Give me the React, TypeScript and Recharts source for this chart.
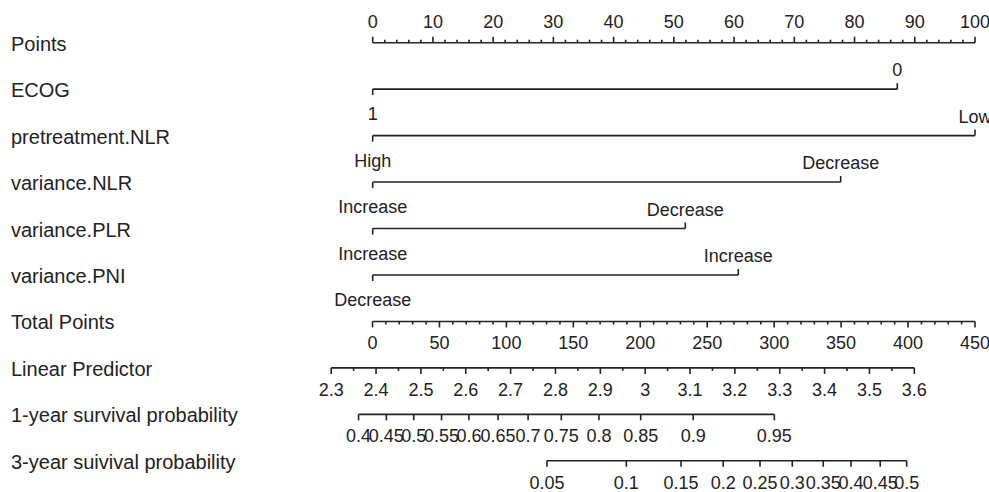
import { ScatterChart, Scatter, XAxis, YAxis } from 'recharts'

const W = 989
const H = 492
const FONT = '"Liberation Sans", Arial, sans-serif'
const INK = '#222'

const ROWS = [
  'Points',
  'ECOG',
  'pretreatment.NLR',
  'variance.NLR',
  'variance.PLR',
  'variance.PNI',
  'Total Points',
  'Linear Predictor',
  '1-year survival probability',
  '3-year suivival probability',
]

// axis tick labels
const POINT_TICKS = [0, 10, 20, 30, 40, 50, 60, 70, 80, 90, 100]
const TOTAL_TICKS = [0, 50, 100, 150, 200, 250, 300, 350, 400, 450]
const LP_TICKS = [2.3, 2.4, 2.5, 2.6, 2.7, 2.8, 2.9, 3, 3.1, 3.2, 3.3, 3.4, 3.5, 3.6]

// survival ticks, positioned on the linear predictor scale
const SURV1_LABELS = ['0.4', '0.45', '0.5', '0.55', '0.6', '0.65', '0.7', '0.75', '0.8', '0.85', '0.9', '0.95']
const SURV1_LP = [2.361, 2.423, 2.484, 2.546, 2.607, 2.672, 2.739, 2.813, 2.897, 2.99, 3.107, 3.288]
const SURV3_LABELS = ['0.05', '0.1', '0.15', '0.2', '0.25', '0.3', '0.35', '0.4', '0.45', '0.5']
const SURV3_LP = [2.781, 2.958, 3.08, 3.174, 3.256, 3.328, 3.397, 3.459, 3.524, 3.583]

// categorical predictors: level labels and their points
const ECOG_LEVELS = ['1', '0']
const ECOG_POINTS = [0, 87.1]
const PRE_NLR_LEVELS = ['High', 'Low']
const PRE_NLR_POINTS = [0, 100]
const VAR_NLR_LEVELS = ['Increase', 'Decrease']
const VAR_NLR_POINTS = [0, 77.7]
const VAR_PLR_LEVELS = ['Increase', 'Decrease']
const VAR_PLR_POINTS = [0, 51.9]
const VAR_PNI_LEVELS = ['Decrease', 'Increase']
const VAR_PNI_POINTS = [0, 60.7]

// plot area in pixels and the pixel anchors of each scale
const PLOT_L = 320
const PLOT_R = 985
const TOP = 42.7
const BOTTOM = 460.8

function domainFor(v0: number, p0: number, v1: number, p1: number): [number, number] {
  const k = (v1 - v0) / (p1 - p0)
  return [v0 + (PLOT_L - p0) * k, v0 + (PLOT_R - p0) * k]
}

const PTS_DOMAIN = domainFor(0, 372.7, 100, 975)
const TOT_DOMAIN = domainFor(0, 372.5, 450, 975)
const LP_DOMAIN = domainFor(2.3, 331.2, 3.6, 914.3)

type Tick = { x: number; y: number; label: string; major: boolean; up: boolean; cat?: boolean }

// major ticks plus evenly split minor ticks in between
function withMinor(major: number[], split: number, row: number, up: boolean): Tick[] {
  const out: Tick[] = []
  major.forEach((v, i) => {
    out.push({ x: v, y: row, label: String(v), major: true, up })
    if (i < major.length - 1) {
      const step = (major[i + 1] - v) / split
      for (let j = 1; j < split; j++) out.push({ x: v + step * j, y: row, label: '', major: false, up })
    }
  })
  return out
}

function levels(labels: string[], pts: number[], row: number): Tick[] {
  return labels.map((l, i) => ({ x: pts[i], y: row, label: l, major: true, up: i % 2 === 1, cat: true }))
}

function labelled(labels: string[], xs: number[], row: number): Tick[] {
  return labels.map((l, i) => ({ x: xs[i], y: row, label: l, major: true, up: false }))
}

const pointsRow = withMinor(POINT_TICKS, 5, 0, true)
const totalRow = withMinor(TOTAL_TICKS, 5, 6, false)
const lpRow = withMinor(LP_TICKS, 2, 7, false)
const surv1Row = labelled(SURV1_LABELS, SURV1_LP, 8)
const surv3Row = labelled(SURV3_LABELS, SURV3_LP, 9)

const catRows = [
  levels(ECOG_LEVELS, ECOG_POINTS, 1),
  levels(PRE_NLR_LEVELS, PRE_NLR_POINTS, 2),
  levels(VAR_NLR_LEVELS, VAR_NLR_POINTS, 3),
  levels(VAR_PLR_LEVELS, VAR_PLR_POINTS, 4),
  levels(VAR_PNI_LEVELS, VAR_PNI_POINTS, 5),
]

const TickMark = (props: any) => {
  const { cx, cy, payload } = props
  const t = payload as Tick
  const len = t.major ? 6 : 3
  const dir = t.up ? -1 : 1
  const off = t.up ? (t.cat ? 19 : 21) : t.cat ? 25 : 22
  return (
    <g>
      <line x1={cx} x2={cx} y1={cy} y2={cy + dir * len} stroke={INK} strokeWidth={1.6} />
      {t.label && (
        <text
          x={cx}
          y={cy + dir * off}
          textAnchor="middle"
          dominantBaseline="central"
          fontSize={18}
          fontFamily={FONT}
          fill={INK}
        >
          {t.label}
        </text>
      )}
    </g>
  )
}

const RowLabel = ({ y, payload }: any) => (
  <text x={11} y={y + 1} dominantBaseline="central" fontSize={20} fontFamily={FONT} fill={INK}>
    {ROWS[payload.value]}
  </text>
)

const LINE = { stroke: INK, strokeWidth: 1.6 }

export default function App() {
  return (
    <div style={{ position: 'absolute', left: 0, top: 0, background: '#fff' }}>
      <ScatterChart width={W} height={H} margin={{ top: TOP, right: W - PLOT_R, bottom: H - BOTTOM, left: 0 }}>
        <XAxis xAxisId="pts" type="number" dataKey="x" domain={PTS_DOMAIN} hide />
        <XAxis xAxisId="tot" type="number" dataKey="x" domain={TOT_DOMAIN} hide />
        <XAxis xAxisId="lp" type="number" dataKey="x" domain={LP_DOMAIN} hide />
        <YAxis
          type="number"
          dataKey="y"
          domain={[0, 9]}
          reversed
          ticks={[0, 1, 2, 3, 4, 5, 6, 7, 8, 9]}
          interval={0}
          width={PLOT_L}
          axisLine={false}
          tickLine={false}
          tick={<RowLabel />}
        />
        <Scatter data={pointsRow} xAxisId="pts" line={LINE} shape={<TickMark />} isAnimationActive={false} />
        {catRows.map((r, i) => (
          <Scatter key={i} data={r} xAxisId="pts" line={LINE} shape={<TickMark />} isAnimationActive={false} />
        ))}
        <Scatter data={totalRow} xAxisId="tot" line={LINE} shape={<TickMark />} isAnimationActive={false} />
        <Scatter data={lpRow} xAxisId="lp" line={LINE} shape={<TickMark />} isAnimationActive={false} />
        <Scatter data={surv1Row} xAxisId="lp" line={LINE} shape={<TickMark />} isAnimationActive={false} />
        <Scatter data={surv3Row} xAxisId="lp" line={LINE} shape={<TickMark />} isAnimationActive={false} />
      </ScatterChart>
    </div>
  )
}
